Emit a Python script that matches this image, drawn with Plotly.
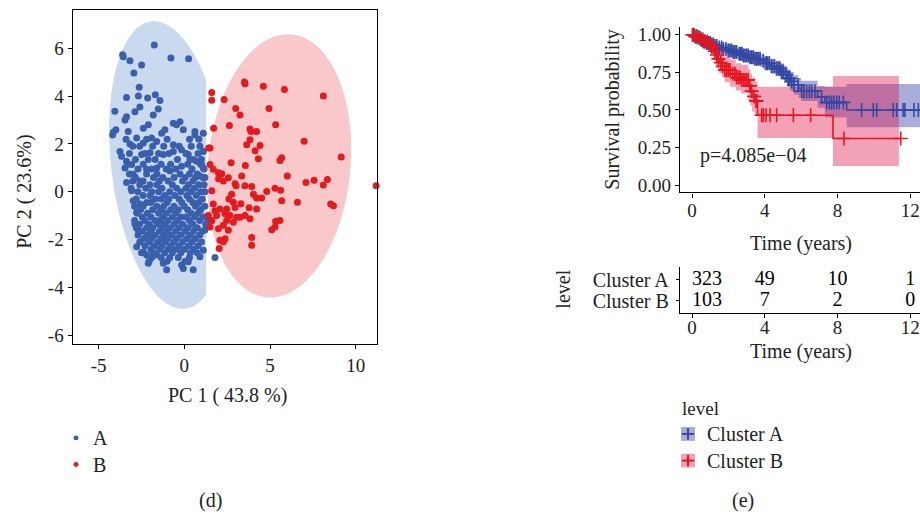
import numpy as np
import plotly.graph_objects as go

W, H = 920, 517
FONT = "Liberation Serif"

# ---------------- PCA scores (PC1, PC2) ----------------
cluster_a_scores = [
    (-1.75, 6.14), (-3.6, 5.73), (-3.56, 5.65), (-3.17, 5.48), (-2.49, 5.3), (-2.94, 4.97),
    (-0.78, 5.59), (0.25, 5.56), (-2.63, 4.37), (-3.37, 3.94), (-2.68, 4.0), (-2.14, 3.92),
    (-1.69, 4.06), (-1.42, 3.82), (-4.05, 3.37), (-2.59, 3.55), (-2.88, 3.35), (-1.52, 3.46),
    (-1.81, 3.21), (-3.37, 3.14), (-3.46, 3.0), (-4.14, 2.49), (-3.99, 2.59), (-4.18, 2.38),
    (-3.27, 2.52), (-2.39, 2.66), (-2.1, 2.8), (-2.78, 2.25), (-3.17, 2.0), (-0.64, 2.87),
    (-0.25, 2.93), (-0.45, 2.8), (-1.13, 2.59), (-1.32, 2.45), (-0.06, 2.59), (0.62, 2.52),
    (1.11, 2.45), (0.62, 2.38), (-0.64, 1.97), (-0.16, 1.76), (0.91, 1.9), (-1.61, 2.1),
    (-1.91, 2.25), (-2.39, 2.04), (-3.75, 1.69), (-3.66, 1.49), (-3.37, 1.28), (-3.46, 1.0),
    (-3.07, 1.14), (-2.49, 1.56), (-2.0, 1.63), (-1.23, 1.56), (-0.64, 1.69), (0.23, 1.56),
    (1.11, 1.69), (0.72, 1.28), (0.33, 1.35), (1.01, 1.14), (1.11, 1.0), (-2.98, 0.73),
    (-3.37, 0.39), (-2.59, 0.45), (-2.2, 0.94), (-1.61, 1.0), (-0.84, 0.87), (-0.16, 1.07),
    (0.91, 0.66), (1.11, 0.59), (-3.07, 0.04), (-2.98, -0.37), (-2.59, -0.51), (-2.78, -0.85),
    (-2.88, -1.34), (-2.68, -1.61), (-2.78, -2.3), (-2.39, -2.51), (-2.2, -2.64), (-2.1, -2.99),
    (-1.61, -2.64), (-1.23, -2.99), (-1.03, -3.26), (-0.16, -3.06), (0.23, -2.92), (0.52, -3.26),
    (-0.06, -3.2), (0.91, -2.71), (1.11, -2.44), (1.79, -2.75), (1.6, -1.2), (1.3, -1.06),
    (1.4, -1.25), (1.2, -1.6),
    (-3.4, 2.2), (-2.2, 2.2), (-1.0, 2.2), (0.3, 2.2), (0.85, 2.2),
    (-3.0, 1.9), (-2.6, 1.9), (-1.85, 1.9), (-1.2, 1.9), (-0.3, 1.9), (0.4, 1.9),
    (-3.2, 1.6), (-2.3, 1.6), (-1.5, 1.6), (-0.9, 1.6), (0.1, 1.6), (0.8, 1.6),
    (-2.85, 1.35), (-2.1, 1.35), (-1.7, 1.35), (-0.4, 1.35), (0.55, 1.35), (1.0, 1.35),
    (-3.3, 1.15), (-2.4, 1.15), (-1.35, 1.15), (-0.8, 1.15), (0.2, 1.15), (0.95, 1.15),
    (-2.7, 0.95), (-1.9, 0.95), (-1.05, 0.95), (-0.5, 0.95), (0.45, 0.95), (1.15, 0.95),
    (-3.2, 0.75), (-2.2, 0.75), (-1.6, 0.75), (-0.25, 0.75), (0.3, 0.75), (0.75, 0.75),
    (-2.85, 0.6), (-1.8, 0.6), (-1.25, 0.6), (-0.6, 0.6), (0.05, 0.6), (0.65, 0.6), (1.2, 0.6),
    (-3.0, 0.45), (-2.4, 0.45), (-1.45, 0.45), (-0.95, 0.45), (-0.1, 0.45), (0.5, 0.45),
    (-2.6, 0.3), (-2.0, 0.3), (-1.6, 0.3), (-0.7, 0.3), (0.25, 0.3), (0.85, 0.3), (1.15, 0.3),
    (-3.1, 0.15), (-2.25, 0.15), (-1.3, 0.15), (-0.45, 0.15), (0.1, 0.15), (0.6, 0.15),
    (-2.7, 0.0), (-1.9, 0.0), (-1.5, 0.0), (-0.85, 0.0), (-0.2, 0.0), (0.4, 0.0), (0.95, 0.0), (1.2, 0.0),
    (-2.4, -0.15), (-2.0, -0.15), (-1.15, -0.15), (-0.55, -0.15), (0.15, -0.15), (0.7, -0.15),
    (-2.8, -0.3), (-1.7, -0.3), (-1.35, -0.3), (-0.9, -0.3), (-0.3, -0.3), (0.3, -0.3), (1.05, -0.3),
    (-2.2, -0.45), (-1.95, -0.45), (-1.0, -0.45), (-0.15, -0.45), (0.5, -0.45), (0.85, -0.45),
    (-2.9, -0.6), (-2.4, -0.6), (-1.6, -0.6), (-1.2, -0.6), (-0.6, -0.6), (0.0, -0.6), (0.65, -0.6), (1.2, -0.6),
    (-2.55, -0.75), (-1.85, -0.75), (-1.35, -0.75), (-0.8, -0.75), (-0.35, -0.75), (0.2, -0.75), (0.95, -0.75),
    (-2.75, -0.9), (-2.15, -0.9), (-1.5, -0.9), (-1.05, -0.9), (-0.5, -0.9), (0.4, -0.9), (0.8, -0.9),
    (-2.45, -1.05), (-1.95, -1.05), (-1.25, -1.05), (-0.7, -1.05), (-0.2, -1.05), (0.1, -1.05), (0.6, -1.05), (1.1, -1.05),
    (-2.9, -1.2), (-2.3, -1.2), (-1.7, -1.2), (-1.4, -1.2), (-0.95, -1.2), (-0.4, -1.2), (0.3, -1.2), (0.9, -1.2),
    (-2.6, -1.35), (-2.05, -1.35), (-1.55, -1.35), (-1.15, -1.35), (-0.6, -1.35), (-0.1, -1.35), (0.5, -1.35), (1.25, -1.35),
    (-2.8, -1.5), (-2.2, -1.5), (-1.85, -1.5), (-1.3, -1.5), (-0.85, -1.5), (-0.3, -1.5), (0.2, -1.5), (0.75, -1.5),
    (-2.45, -1.65), (-1.95, -1.65), (-1.45, -1.65), (-1.0, -1.65), (-0.5, -1.65), (0.05, -1.65), (0.55, -1.65), (1.05, -1.65),
    (-2.7, -1.8), (-2.15, -1.8), (-1.7, -1.8), (-1.2, -1.8), (-0.75, -1.8), (-0.2, -1.8), (0.35, -1.8), (0.9, -1.8),
    (-2.35, -1.95), (-1.9, -1.95), (-1.35, -1.95), (-0.95, -1.95), (-0.45, -1.95), (0.15, -1.95), (0.65, -1.95),
    (-2.6, -2.1), (-2.05, -2.1), (-1.55, -2.1), (-1.1, -2.1), (-0.6, -2.1), (-0.1, -2.1), (0.45, -2.1), (1.0, -2.1),
    (-2.3, -2.25), (-1.75, -2.25), (-1.3, -2.25), (-0.8, -2.25), (-0.3, -2.25), (0.25, -2.25), (0.8, -2.25),
    (-1.95, -2.4), (-1.45, -2.4), (-0.95, -2.4), (-0.5, -2.4), (0.0, -2.4), (0.55, -2.4),
    (-2.5, -2.55), (-1.8, -2.55), (-1.15, -2.55), (-0.7, -2.55), (-0.2, -2.55), (0.35, -2.55), (0.75, -2.55),
    (-1.9, -2.75), (-1.35, -2.75), (-0.85, -2.75), (-0.35, -2.75), (0.3, -2.75),
    (-2.05, -2.9), (-1.0, -2.9), (0.05, -2.9),
]

cluster_b_scores = [
    (3.51, 4.59), (3.54, 4.52), (4.61, 4.41), (5.84, 4.28), (8.11, 4.01), (1.6, 4.15),
    (1.6, 3.83), (2.32, 3.86), (3.0, 3.48), (3.25, 3.21), (4.94, 3.48), (5.33, 2.8),
    (2.63, 2.77), (1.71, 2.66), (3.83, 2.63), (3.89, 2.52), (4.22, 2.52), (3.83, 2.18),
    (3.64, 1.97), (4.42, 1.94), (4.13, 1.72), (6.99, 2.11), (9.15, 1.46), (1.5, 1.83),
    (4.32, 1.38), (5.68, 1.42), (5.58, 1.31), (2.73, 1.21), (3.56, 1.1), (1.5, 1.14),
    (1.69, 0.94), (1.99, 0.8), (2.18, 0.76), (2.57, 0.59), (2.28, 0.45), (3.35, 0.66),
    (2.96, 0.34), (3.02, 0.25), (3.54, 0.25), (3.93, 0.22), (4.81, 0.01), (5.29, 0.15),
    (5.62, 0.07), (6.01, 0.66), (7.1, 0.39), (7.57, 0.48), (8.11, 0.29), (8.35, 0.52),
    (11.19, 0.25), (1.6, 0.04), (2.76, -0.1), (2.86, -0.44), (4.03, -0.1), (4.22, -0.26),
    (4.51, -0.26), (5.68, -0.37), (6.6, -0.44), (8.54, -0.51), (8.7, -0.58), (1.69, -0.51),
    (1.79, -0.79), (2.08, -0.72), (2.47, -0.72), (2.38, -0.92), (2.67, -0.99), (2.96, -0.65),
    (3.06, -1.06), (3.54, -0.99), (3.78, -0.67), (3.83, -1.13), (4.22, -0.72), (1.5, -1.47),
    (1.6, -1.2), (1.99, -1.54), (2.28, -1.4), (2.57, -1.61), (5.1, -1.58), (5.33, -1.23),
    (5.58, -1.2), (5.29, -1.47), (3.93, -1.91), (3.93, -2.23), (2.08, -2.02), (2.38, -1.96),
    (2.03, -2.37), (2.28, -2.09), (1.4, -0.99), (1.89, -0.99), (2.47, -1.2), (2.86, -1.27),
    (3.25, -1.06), (1.42, 1.83), (2.0, 0.55), (2.6, -0.3), (3.3, -0.5),
]
groups = ["A", "B"]

# concentration ellipses: centre, half-widths, vertical shear
ellipse_a = dict(cx=-0.93, cy=1.12, rx=3.35, ry=6.01, shear=0.84, xmax=1.27)
ellipse_b = dict(cx=5.53, cy=1.085, rx=4.17, ry=5.5, shear=-0.52, xmax=None)

# ---------------- Kaplan-Meier estimates ----------------
km_a_time = [0, 0.15, 0.3, 0.45, 0.6, 0.8, 1.0, 1.2, 1.45, 1.7, 1.95, 2.2, 2.5, 2.8, 3.1,
             3.4, 3.75, 3.95, 4.3, 4.6, 4.85, 5.05, 5.25, 5.4, 5.6, 5.85, 6.0, 6.9, 7.3, 8.5]
km_a_surv = [1.0, 0.99, 0.98, 0.965, 0.955, 0.945, 0.935, 0.925, 0.915, 0.905, 0.895, 0.885,
             0.873, 0.862, 0.85, 0.84, 0.828, 0.81, 0.79, 0.775, 0.755, 0.735, 0.71, 0.69,
             0.665, 0.645, 0.625, 0.585, 0.55, 0.50]
km_a_upper = [1.0, 1.0, 0.995, 0.985, 0.978, 0.97, 0.962, 0.955, 0.947, 0.938, 0.93, 0.92,
              0.91, 0.9, 0.89, 0.882, 0.872, 0.857, 0.84, 0.828, 0.81, 0.792, 0.77, 0.752,
              0.73, 0.712, 0.695, 0.66, 0.655, 0.672]
km_a_lower = [1.0, 0.98, 0.965, 0.945, 0.933, 0.92, 0.908, 0.897, 0.885, 0.873, 0.862, 0.85,
              0.837, 0.825, 0.81, 0.8, 0.785, 0.765, 0.742, 0.725, 0.703, 0.68, 0.652, 0.63,
              0.603, 0.58, 0.56, 0.515, 0.45, 0.385]
km_a_end = 12.8
km_a_censor = [0.07, 0.16, 0.26, 0.35, 0.44, 0.53, 0.62, 0.71, 0.81, 0.9, 0.99, 1.08, 1.17,
               1.26, 1.36, 1.5, 1.63, 1.72, 1.87, 1.99, 2.09, 2.18, 2.27, 2.36, 2.45, 2.6,
               2.67, 2.75, 2.82, 2.91, 3.0, 3.09, 3.19, 3.28, 3.37, 3.46, 3.55, 3.64, 3.74,
               3.92, 4.07, 4.14, 4.25, 4.38, 4.51, 4.65, 4.76, 4.83, 4.93, 5.02, 5.17, 5.29,
               5.38, 5.48, 5.6, 5.84, 6.03, 6.15, 6.3, 6.45, 6.58, 6.76, 7.12, 7.4, 7.55, 7.67,
               7.8, 7.95, 8.09, 8.32, 9.32, 9.96, 10.15, 11.06, 11.25, 11.6, 11.7, 12.2, 12.44]

km_b_time = [0, 0.2, 0.4, 0.6, 0.85, 1.05, 1.2, 1.3, 1.4, 1.5, 1.65, 1.8, 2.1, 2.4, 2.7,
             3.1, 3.2, 3.3, 3.45, 3.6, 7.75]
km_b_surv = [1.0, 0.985, 0.97, 0.955, 0.94, 0.92, 0.89, 0.865, 0.84, 0.815, 0.79, 0.765,
             0.74, 0.715, 0.7, 0.66, 0.625, 0.59, 0.56, 0.465, 0.31]
km_b_upper = [1.0, 1.0, 1.0, 0.995, 0.99, 0.975, 0.955, 0.935, 0.915, 0.895, 0.875, 0.855,
              0.835, 0.81, 0.8, 0.77, 0.74, 0.71, 0.69, 0.654, 0.726]
km_b_lower = [1.0, 0.96, 0.94, 0.915, 0.895, 0.87, 0.83, 0.8, 0.77, 0.742, 0.715, 0.685,
              0.655, 0.63, 0.61, 0.565, 0.53, 0.49, 0.46, 0.314, 0.127]
km_b_end = 11.37
km_b_censor = [0.02, 0.11, 0.22, 0.35, 0.48, 0.59, 0.71, 0.84, 0.99, 1.08, 1.17, 1.26, 1.36,
               1.45, 1.58, 1.69, 1.81, 1.9, 1.99, 2.09, 2.23, 2.36, 2.45, 2.55, 2.64, 2.73,
               2.82, 2.91, 3.0, 3.09, 3.19, 3.28, 3.41, 3.52, 3.55, 3.83, 3.92, 4.07, 4.29,
               4.65, 5.57, 6.52, 8.35, 11.47]

p_value_text = "p=4.085e\u221204"

# numbers at risk
risk_times = [0, 4, 8, 12]
risk_a = [323, 49, 10, 1]
risk_b = [103, 7, 2, 0]
strata = ["Cluster A", "Cluster B"]

# tick labels
pc1_ticks = [-5, 0, 5, 10]
pc2_ticks = [-6, -4, -2, 0, 2, 4, 6]
surv_ticks = [0, 0.25, 0.5, 0.75, 1.0]

# ---------------- styling ----------------
PCA_BLUE = "#3A5FAD"
PCA_RED = "#E41A1C"
ELL_BLUE = "#C9D9EE"
ELL_RED = "#F8C8CA"
KM_BLUE = "#3448A3"
KM_RED = "#E8141C"
BAND_BLUE = "rgba(60,70,170,0.45)"
BAND_RED = "rgba(226,20,75,0.40)"
TEXT = "#222"


def px_x(p):
    return p / W


def px_y(p):
    return 1 - p / H


def ellipse_path(cx, cy, rx, ry, shear, xmax):
    t = np.linspace(0, 2 * np.pi, 241)
    xs = cx + rx * np.cos(t) - shear * np.sin(t)
    ys = cy + ry * np.sin(t)
    if xmax is not None:
        xs = np.minimum(xs, xmax)
    pts = [f"{a:.4f},{b:.4f}" for a, b in zip(xs, ys)]
    return "M " + " L ".join(pts) + " Z"


def step_value(times, values, t):
    v = values[0]
    for tt, vv in zip(times, values):
        if tt <= t:
            v = vv
    return v


fig = go.Figure()

# ---- panel (d): PCA ----
for ell, col in ((ellipse_a, ELL_BLUE), (ellipse_b, ELL_RED)):
    fig.add_shape(type="path", path=ellipse_path(**ell), xref="x", yref="y",
                  fillcolor=col, line=dict(width=0), layer="below")

for name, scores, col in ((groups[0], cluster_a_scores, PCA_BLUE), (groups[1], cluster_b_scores, PCA_RED)):
    fig.add_trace(go.Scatter(
        x=[p[0] for p in scores], y=[p[1] for p in scores], mode="markers", name=name,
        marker=dict(color=col, size=7, line=dict(width=0)), xaxis="x", yaxis="y",
        showlegend=False, cliponaxis=False))

# group key below the PCA panel
for i, (name, col) in enumerate(((groups[0], PCA_BLUE), (groups[1], PCA_RED))):
    cy = 440 + 27 * i
    fig.add_shape(type="circle", xref="paper", yref="paper",
                  x0=px_x(73.5), x1=px_x(78.5), y0=px_y(cy + 2.5), y1=px_y(cy - 2.5),
                  fillcolor=col, line=dict(width=0))
    fig.add_annotation(text=name, x=px_x(91), y=px_y(cy), xref="paper", yref="paper",
                       showarrow=False, xanchor="left", yanchor="middle",
                       font=dict(family=FONT, size=20, color=TEXT))

# ---- panel (e): survival curves ----
for times, lo, hi, end, band in ((km_a_time, km_a_lower, km_a_upper, km_a_end, BAND_BLUE),
                                 (km_b_time, km_b_lower, km_b_upper, km_b_end, BAND_RED)):
    fig.add_trace(go.Scatter(x=times + [end], y=lo + [lo[-1]], mode="lines",
                             line=dict(width=0, shape="hv"), showlegend=False,
                             hoverinfo="skip", xaxis="x2", yaxis="y2"))
    fig.add_trace(go.Scatter(x=times + [end], y=hi + [hi[-1]], mode="lines", fill="tonexty",
                             fillcolor=band, line=dict(width=0, shape="hv"), showlegend=False,
                             hoverinfo="skip", xaxis="x2", yaxis="y2"))

for name, times, surv, end, cens, col in (
        (strata[0], km_a_time, km_a_surv, km_a_end, km_a_censor, KM_BLUE),
        (strata[1], km_b_time, km_b_surv, km_b_censor[-1], km_b_censor, KM_RED)):
    fig.add_trace(go.Scatter(x=times + [end], y=surv + [surv[-1]], mode="lines", name=name,
                             line=dict(color=col, width=1.6, shape="hv"), showlegend=False,
                             xaxis="x2", yaxis="y2"))
    fig.add_trace(go.Scatter(x=cens, y=[step_value(times, surv, t) for t in cens],
                             mode="markers", showlegend=False, xaxis="x2", yaxis="y2",
                             marker=dict(symbol="cross-thin", size=10,
                                         line=dict(color=col, width=1.6))))

# ---- risk table ----
first_col = ["middle right"] + ["middle center"] * (len(risk_times) - 1)
fig.add_trace(go.Scatter(
    x=risk_times + risk_times, y=[1] * len(risk_a) + [0] * len(risk_b), mode="text",
    text=[str(v) for v in risk_a + risk_b], textposition=first_col + first_col,
    textfont=dict(family=FONT, size=20, color="black"),
    showlegend=False, xaxis="x3", yaxis="y3", cliponaxis=False))

tick_font = dict(family=FONT, size=19, color=TEXT)
axis_common = dict(showgrid=False, zeroline=False, showline=True, linecolor="black",
                   linewidth=1.4, ticks="outside", ticklen=4, tickwidth=1.2,
                   tickcolor="black", tickfont=tick_font)

km_x_range = [-0.66, 12.53]

fig.update_layout(
    width=W, height=H, margin=dict(l=0, r=0, t=0, b=0),
    paper_bgcolor="white", plot_bgcolor="white",
    font=dict(family=FONT, size=20, color=TEXT),
    showlegend=False,
    xaxis=dict(domain=[px_x(72.7), px_x(377)], range=[-6.51, 11.24], tickvals=pc1_ticks,
               ticktext=[str(v) for v in pc1_ticks], mirror=True, anchor="y", **axis_common),
    yaxis=dict(domain=[px_y(345), px_y(7.3)], range=[-6.36, 7.59], tickvals=pc2_ticks,
               ticktext=[str(v) for v in pc2_ticks], mirror=True, anchor="x", **axis_common),
    xaxis2=dict(domain=[px_x(680), 1.0], range=km_x_range, tickvals=risk_times,
                ticklabelstandoff=-3, anchor="y2", **axis_common),
    yaxis2=dict(domain=[px_y(191.7), px_y(24.7)], range=[-0.049, 1.049],
                tickvals=surv_ticks, ticktext=[f"{v:.2f}" for v in surv_ticks],
                anchor="x2", **axis_common),
    xaxis3=dict(domain=[px_x(680), 1.0], range=km_x_range, tickvals=risk_times,
                ticklabelstandoff=-7, anchor="y3", **axis_common),
    yaxis3=dict(domain=[px_y(313.3), px_y(267)], range=[-0.586, 1.62], tickvals=[0, 1],
                ticktext=[strata[1], strata[0]], anchor="x3", ticklabelstandoff=3,
                **{**axis_common, "tickfont": dict(family=FONT, size=20, color=TEXT),
                   "ticklen": 3}),
)

# axis titles and panel labels
texts = [
    ("PC 2 ( 23.6%)", 25, 191, -90),
    ("PC 1 ( 43.8 %)", 227, 397, 0),
    ("Survival probability", 613, 108, -90),
    ("Time (years)", 801, 243, 0),
    ("Time (years)", 801, 353, 0),
    ("level", 563, 290, -90),
    ("(d)", 210, 503, 0),
    ("(e)", 743, 503, 0),
]
for txt, x, y, ang in texts:
    fig.add_annotation(text=txt, x=px_x(x), y=px_y(y), xref="paper", yref="paper",
                       showarrow=False, textangle=ang, xanchor="center", yanchor="middle",
                       font=dict(family=FONT, size=20, color=TEXT))

fig.add_annotation(text=p_value_text, x=0.33, y=0.2, xref="x2", yref="y2", showarrow=False,
                   xanchor="left", yanchor="middle", font=dict(family=FONT, size=20, color=TEXT))

# strata key for the survival panel
fig.add_annotation(text="level", x=px_x(680), y=px_y(410), xref="paper", yref="paper",
                   showarrow=False, xanchor="left", yanchor="middle",
                   font=dict(family=FONT, size=19, color=TEXT))
for i, (lab, band, col) in enumerate(((strata[0], BAND_BLUE, KM_BLUE), (strata[1], BAND_RED, KM_RED))):
    cy = 436 + 27 * i
    fig.add_shape(type="rect", xref="paper", yref="paper", x0=px_x(681), x1=px_x(695),
                  y0=px_y(cy + 7), y1=px_y(cy - 7), fillcolor=band, line=dict(width=0))
    fig.add_shape(type="line", xref="paper", yref="paper", x0=px_x(682), x1=px_x(694),
                  y0=px_y(cy), y1=px_y(cy), line=dict(color=col, width=2))
    fig.add_shape(type="line", xref="paper", yref="paper", x0=px_x(688), x1=px_x(688),
                  y0=px_y(cy - 6), y1=px_y(cy + 6), line=dict(color=col, width=2))
    fig.add_annotation(text=lab, x=px_x(705), y=px_y(cy), xref="paper", yref="paper",
                       showarrow=False, xanchor="left", yanchor="middle",
                       font=dict(family=FONT, size=20, color=TEXT))

fig.write_html("out.html")
